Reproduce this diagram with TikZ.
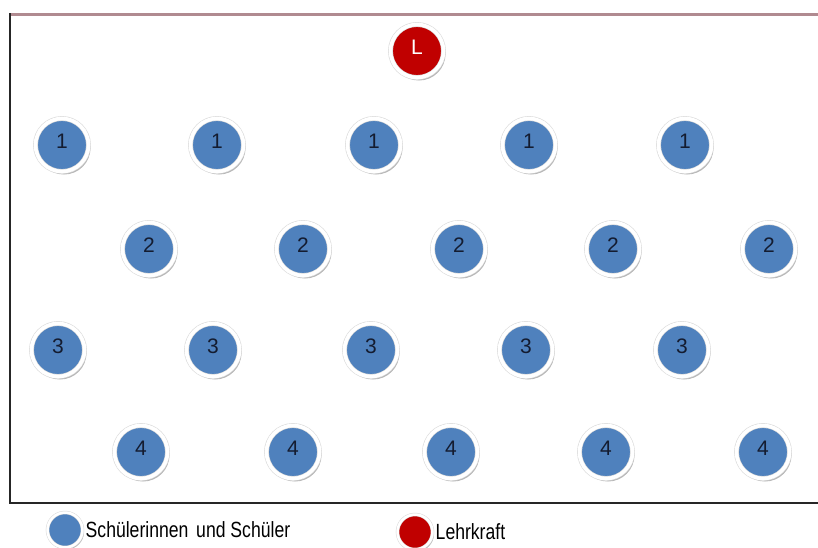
\documentclass[tikz,border=0pt]{standalone}
\usepackage{fontspec}
\setmainfont{Liberation Sans}
\usetikzlibrary{positioning, shadows}
\definecolor{seatblue}{RGB}{79,129,189}
\definecolor{teachred}{RGB}{192,0,0}
\definecolor{digitnavy}{RGB}{20,28,48}
\definecolor{framerose}{RGB}{176,138,144}

\begin{document}
\begin{tikzpicture}[
        x=1pt, y=-1pt,
        seat/.style={circle, fill=seatblue, draw=gray!30, line width=0.6pt, double=white,
            double distance=3.6pt, minimum size=53pt,
            inner sep=0pt, text=digitnavy, font=\fontsize{21}{21}\selectfont,
            text height=16pt, text depth=9pt,
            drop shadow={shadow xshift=2pt, shadow yshift=-3pt, fill=gray!80, opacity=0.7}},
        teacher/.style={seat, fill=teachred, text=white},
        legseat/.style={circle, fill=seatblue, draw=gray!30, line width=0.5pt, double=white,
            double distance=2.5pt, minimum size=35pt,
            drop shadow={shadow xshift=1.5pt, shadow yshift=-2pt, fill=gray!80, opacity=0.7}},
        legtext/.style={font=\fontsize{22}{22}\selectfont, xscale=0.8, inner sep=1pt}
    ]
        \useasboundingbox (0,0) rectangle (818,547);

        % Room frame
        \draw[framerose, line width=3pt] (10,14) -- (818,14);
        \draw[black!85, line width=1.5pt] (10,13) -- (10,503) -- (818,503);

        % Teacher
        \node[teacher] (lk) at (417,51) {L};

        % Row 1
        \node[seat] (r1a) at (62,145) {1};
        \node[seat] (r1b) at (217,145) {1};
        \node[seat] (r1c) at (374,145) {1};
        \node[seat] (r1d) at (529,145) {1};
        \node[seat] (r1e) at (685,145) {1};

        % Row 2
        \node[seat] (r2a) at (149,249) {2};
        \node[seat] (r2b) at (303,249) {2};
        \node[seat] (r2c) at (459,249) {2};
        \node[seat] (r2d) at (613,249) {2};
        \node[seat] (r2e) at (769,249) {2};

        % Row 3
        \node[seat] (r3a) at (58,350) {3};
        \node[seat] (r3b) at (213,350) {3};
        \node[seat] (r3c) at (371,350) {3};
        \node[seat] (r3d) at (526,350) {3};
        \node[seat] (r3e) at (682,350) {3};

        % Row 4
        \node[seat] (r4a) at (141,452) {4};
        \node[seat] (r4b) at (293,452) {4};
        \node[seat] (r4c) at (451,452) {4};
        \node[seat] (r4d) at (606,452) {4};
        \node[seat] (r4e) at (763,452) {4};

        % Legend
        \node[legseat] (legs) at (65,530) {};
        \node[legtext, right=2pt of legs] (legst) {Schülerinnen\, und Schüler};
        \node[legseat, fill=teachred] (legl) at (415,532) {};
        \node[legtext, right=2pt of legl] (leglt) {Lehrkraft};

    \end{tikzpicture}
\end{document}
